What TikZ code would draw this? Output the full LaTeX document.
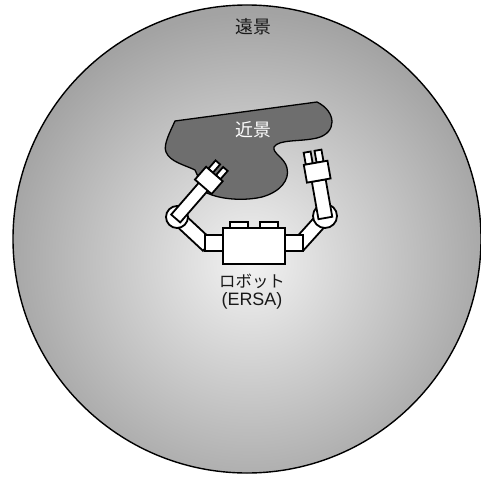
\documentclass[tikz,border=0pt]{standalone}
\usepackage{tikz}
\usepackage{xcolor}
\usepackage{fontspec}
\newfontfamily\jpfont{Noto Sans CJK JP}
\newfontfamily\arialfont{Liberation Sans}
\colorlet{FarInner}{white!95!black}
\colorlet{FarOuter}{white!64!black}
\colorlet{NearGray}{white!43!black}
\tikzstyle{robotPart}=[draw, fill=white, line width=1.8pt]
\tikzstyle{sceneLabel}=[inner sep=0pt, font=\jpfont\fontsize{18}{20}\selectfont]

\begin{document}
\begin{tikzpicture}[x=1bp, y=-1bp]
        \useasboundingbox (0,0) rectangle (481,479);

        % Far field
        \begin{scope}
            \clip (247,239) circle (234);
            \fill[FarOuter] (247,239) circle (234);
            \shade[inner color=FarInner, outer color=FarOuter] (250,262) circle (250);
        \end{scope}
        \draw[line width=1.4pt] (247,239) circle (234);
        \node[sceneLabel, text=black!90] (far) at (253,27) {遠景};

        % Near field
        \draw[fill=NearGray, line width=1.3pt] (175,121) -- (317,102)
            .. controls (337,112) and (337,133) .. (317,138)
            .. controls (300,142) and (279,139) .. (274,147)
            .. controls (272,153) and (285,158) .. (287,168)
            .. controls (290,180) and (280,192) .. (262,197)
            .. controls (245,201) and (220,200) .. (205,192)
            -- (195,170)
            .. controls (185,165) and (170,162) .. (166,152)
            .. controls (163,145) and (170,132) .. (175,121) -- cycle;
        \node[sceneLabel, text=white] (near) at (253,130) {近景};

        % Lower arms
        \begin{scope}[shift={(177,217)}, rotate=-133]
            \draw[robotPart] (-7,0) rectangle (7,-42);
        \end{scope}
        \begin{scope}[shift={(325,216)}, rotate=138]
            \draw[robotPart] (-7,0) rectangle (7,-40);
        \end{scope}

        % Body
        \draw[robotPart] (205,235) rectangle (223,251);
        \draw[robotPart] (285,235) rectangle (303,251);
        \draw[robotPart] (230,222) rectangle (248,228);
        \draw[robotPart] (260,222) rectangle (278,228);
        \draw[robotPart] (223,228) rectangle (285,264);

        % Elbows
        \draw[robotPart] (177,217) circle (11);
        \draw[robotPart] (325,216) circle (12);

        % Left upper arm and gripper
        \begin{scope}[shift={(177,217)}, rotate=-41]
            \draw[robotPart] (-6,2) rectangle (6,-41);
            \draw[robotPart] (-8,-57) rectangle (-2,-68);
            \draw[robotPart] (2,-57) rectangle (8,-68);
            \draw[robotPart] (-11,-40) rectangle (11,-57);
        \end{scope}

        % Right upper arm and gripper
        \begin{scope}[shift={(325,216)}, rotate=10]
            \draw[robotPart] (-7,2) rectangle (7,-36);
            \draw[robotPart] (-10,-54) rectangle (-3,-66);
            \draw[robotPart] (1,-54) rectangle (8,-66);
            \draw[robotPart] (-12,-36) rectangle (12,-54);
        \end{scope}

        \node[sceneLabel, text=black!90, font=\jpfont\fontsize{16.5}{18}\selectfont] (robot) at (252,281) {ロボット};
        \node[inner sep=0pt, text=black!90, font=\arialfont\fontsize{18}{20}\selectfont] (ersa) at (252,301) {(ERSA)};

\end{tikzpicture}
\end{document}
